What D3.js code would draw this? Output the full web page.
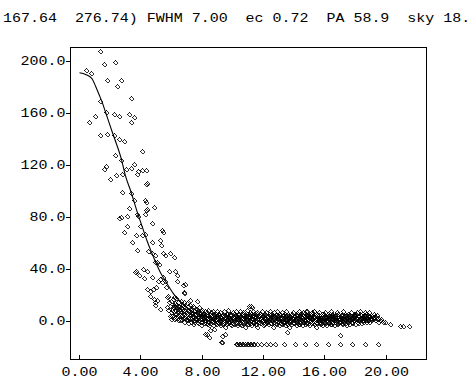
<!DOCTYPE html>
<html><head><meta charset="utf-8">
<script src="https://cdn.jsdelivr.net/npm/d3@7"></script>
<style>html,body{margin:0;padding:0;background:#fff;} svg{display:block;} text{white-space:pre;}</style>
</head><body><svg id="c" width="472" height="391"></svg>
<script>
const titleText = "167.64  276.74) FWHM 7.00  ec 0.72  PA 58.9  sky 18.";
const xTicks = [0, 4, 8, 12, 16, 20];
const xTickLabels = ["0.00", "4.00", "8.00", "12.00", "16.00", "20.00"];
const yTicks = [0, 40, 80, 120, 160, 200];
const yTickLabels = ["0.0", "40.0", "80.0", "120.0", "160.0", "200.0"];

// fitted profile
const fitR = [0, 0.4, 0.8, 1.05, 1.26, 1.5, 1.7, 2.13, 2.31, 2.74, 3.0, 3.33, 3.77, 4.09, 4.4, 4.83, 5.27, 5.59, 6.14, 6.6, 7.0, 7.5, 8.0, 8.5, 9.0];
const fitV = [191.3, 190, 187, 181, 175, 168, 161, 146, 140, 124.6, 112, 100.8, 84.1, 73, 62.3, 49.5, 37.9, 31.5, 21.3, 15, 10.5, 7, 4.5, 3, 2];

// pixel values in the core [radius, value]
const corePoints = [
 [1.37,207.7],[1.59,198.2],[2.31,200],[0.44,193.8],[0.72,191.3],[1.81,185.9],[2.68,185.4],[2.46,181.5],
 [3.39,171.8],[1.31,170],[1.70,161],[2.25,159.8],[2.61,157.9],[3.22,159.8],[3.55,157.2],[3.39,153.8],
 [1.01,157.7],[0.65,153.3],[1.37,143.6],[1.81,144.4],[2.25,143.6],[2.57,140.5],[2.90,138.5],[4.05,130.8],
 [2.31,127.7],[2.74,124.6],[3.55,121.3],[1.70,120],[1.59,117.5],[3.05,117.5],[3.33,117.9],[2.79,113.6],
 [2.35,112.8],[2.02,109.8],[3.83,115.4],[4.09,116.9],[4.31,116.2],[3.77,113.6],[4.35,105.9],[4.38,106.6],
 [2.79,100],[3.39,99],[4.27,93.8],[3.55,93.8],[3.22,87.2],[3.77,82.8],[3.83,81.5],[4.27,82.8],[4.35,85.4],
 [2.68,80.2],[2.57,79.5],[3.11,73.8],[3.98,73.3],[4.35,91.8],[4.40,86.7],[4.83,87.9],[3.13,81.5],
 [4.73,75.6],[2.92,68.7],[5.38,70.5],[5.44,68.7],[3.70,66.2],[4.07,66.9],[4.29,67.5],[5.27,62.8],
 [3.42,61],[4.73,61],[3.75,55.2],[4.50,54.1],[5.31,58.5],[4.73,52.5],[4.94,51.5],[5.48,52.5],[5.59,51.5],
 [5.92,52.5],[6.14,50],[5.05,45.6],[4.94,45.6],[5.16,44.4],[4.14,40.5],[4.40,39.2],[3.64,37.9],[3.67,38.5],
 [3.85,35.4],[4.18,33.6],[4.73,34.6],[5.48,34.6],[5.59,31.5],[5.81,38.7],[6.25,39.2],[6.36,35.4],
 [5.09,31.5],[5.27,32.8],[5.38,30.2],[4.79,25.2],[5.01,26.9],[5.66,26.9],[6.36,31.5],[6.75,27.7],[6.90,29],
 [6.79,21.8],[6.83,22.4],[4.61,20],[4.83,17.5],[4.94,14.8],[5.71,18.7],[5.81,14.8],[6.14,18.7],[7.23,16.2],
 [7.66,15.6],[5.27,9.8],[5.71,11],[6.03,8.5],[4.40,25.2],[4.61,23.8],[5.05,16.5],[4.90,12.5]
];

// sky band [radius, values]
const skyBand = [
 [5.8,[20,9]],[5.9,[12,4]],[6.0,[16,7,2]],[6.1,[11,17,5]],[6.2,[9,14,3]],[6.3,[13,6,18]],[6.4,[8,15,1]],
 [6.5,[12,4,10]],[6.6,[16,7,2]],[6.7,[10,13,5]],[6.8,[6,15,0]],[6.9,[11,3,8]],[7.0,[14,6,1]],[7.1,[9,12,-1]],
 [7.2,[5,13,3]],[7.3,[10,2,7]],[7.4,[12,4,-2]],[7.5,[8,0,11]],[7.6,[6,10,2]],[7.7,[3,9,-1]],[7.8,[7,1,11]],
 [7.9,[4,8,-3]],[8.0,[9,2,5]],[8.1,[6,-1,3]],[8.2,[8,1,4]],[8.3,[2,7,-2]],[8.4,[5,0,9]],[8.5,[3,6,-1]],
 [8.6,[7,1,4]],[8.7,[2,8,-3]],[8.8,[5,0,3]],[8.9,[6,-2,2]],[9.0,[4,8,0]],[9.1,[3,-1,6]],[9.2,[1,7,-3]],
 [9.3,[5,2,-2]],[9.4,[8,0,3]],[9.5,[2,-4,5]],[9.6,[6,1,-1]],[9.7,[4,9,0]],[9.8,[-2,3,6]],[9.9,[1,5,-3]],
 [10.0,[7,2,-1]],[10.1,[3,-2,6]],[10.2,[0,5,8]],[10.3,[4,-3,2]],[10.4,[6,1,-1]],[10.5,[2,8,-2]],[10.6,[5,0,3]],
 [10.7,[-1,4,7]],[10.8,[3,-4,1]],[10.9,[6,2,9]],[11.0,[0,4,-2]],[11.1,[5,1,7]],[11.2,[-3,3,6]],[11.3,[2,8,-1]],
 [11.4,[4,0,6]],[11.5,[1,-2,5]],[11.6,[7,3,-4]],[11.7,[2,5,0]],[11.8,[-1,6,3]],[11.9,[4,1,8]],[12.0,[0,-3,5]],
 [12.1,[6,2,-1]],[12.2,[3,7,0]],[12.3,[-2,4,1]],[12.4,[5,8,2]],[12.5,[1,-1,6]],[12.6,[3,-4,4]],[12.7,[7,0,2]],
 [12.8,[-2,5,1]],[12.9,[4,2,8]],[13.0,[0,6,-3]],[13.1,[3,-1,5]],[13.2,[1,7,-2]],[13.3,[5,2,0]],[13.4,[-3,4,6]],
 [13.5,[2,8,-1]],[13.6,[6,0,3]],[13.7,[1,-4,4]],[13.8,[5,2,-2]],[13.9,[3,7,0]],[14.0,[-1,4,1]],[14.1,[6,2,-3]],
 [14.2,[0,5,3]],[14.3,[4,-2,8]],[14.4,[2,6,-1]],[14.5,[-3,3,1]],[14.6,[5,0,7]],[14.7,[1,4,-2]],[14.8,[3,8,0]],
 [14.9,[-1,2,6]],[15.0,[4,-3,1]],[15.1,[2,5,-1]],[15.2,[6,0,3]],[15.3,[-2,4,8]],[15.4,[1,3,-4]],[15.5,[5,-1,2]],
 [15.6,[0,7,3]],[15.7,[4,-2,1]],[15.8,[2,6,-3]],[15.9,[3,0,5]],[16.0,[-1,4,7]],[16.1,[1,-3,3]],[16.2,[6,2,-1]],
 [16.3,[0,5,3]],[16.4,[4,-2,8]],[16.5,[2,6,-1]],[16.6,[-3,3,1]],[16.7,[5,0,4]],[16.8,[1,7,-2]],[16.9,[3,-1,6]],
 [17.0,[0,4,2]],[17.1,[5,-2,3]],[17.2,[2,8,0]],[17.3,[-1,4,6]],[17.4,[3,1,-3]],[17.5,[6,2,0]],[17.6,[1,5,-2]],
 [17.7,[4,0,7]],[17.8,[-1,3,2]],[17.9,[5,6,1]],[18.0,[2,-2,4]],[18.1,[0,7,3]],[18.2,[4,1,-1]],[18.3,[6,2,8]],
 [18.4,[3,-1,5]],[18.5,[1,4,0]],[18.6,[5,2,7]],[18.7,[3,0,6]],[18.8,[2,5,1]],[18.9,[4,7,0]],[19.0,[3,1,5]],
 [19.1,[4,2]],[19.2,[3,6]],[19.3,[1,4]],[19.4,[2,5]],[19.5,[3,0]],[19.6,[1]],[19.7,[2]],[19.8,[0]]
];

// more sky pixels between the columns above
const skyBand2 = [
 [6.05,[9,4]],[6.15,[13,2]],[6.25,[6,11]],[6.35,[10,3]],[6.45,[5,12]],[6.55,[8,1]],[6.65,[11,4]],[6.75,[3,8]],[6.85,[9,12]],[6.95,[5,2]],
 [7.05,[8,3]],[7.15,[2,7]],[7.25,[9,0]],[7.35,[4,6]],[7.45,[1,8]],[7.55,[5,3]],[7.65,[7,0]],[7.75,[4,1]],[7.85,[6,2]],[7.95,[0,5]],
 [8.05,[3,6]],[8.15,[1,4]],[8.25,[5,-1]],[8.35,[3,6]],[8.45,[2,-3]],[8.55,[4,1]],[8.65,[0,5]],[8.75,[6,3]],[8.85,[1,-1]],[8.95,[3,5]],
 [9.05,[2,6]],[9.15,[4,0]],[9.25,[1,3]],[9.35,[-1,5]],[9.45,[3,1]],[9.55,[4,-2]],[9.65,[2,6]],[9.75,[0,3]],[9.85,[5,2]],[9.95,[3,-1]],
 [10.05,[1,4]],[10.15,[5,2]],[10.25,[-1,3]],[10.35,[2,6]],[10.45,[4,0]],[10.55,[1,-3]],[10.65,[3,6]],[10.75,[0,5]],[10.85,[4,2]],[10.95,[-2,1]],
 [11.05,[3,6]],[11.15,[1,-1]],[11.25,[4,2]],[11.35,[0,5]],[11.45,[3,-2]],[11.55,[2,6]],[11.65,[4,0]],[11.75,[-1,3]],[11.85,[2,5]],[11.95,[1,4]],
 [12.05,[3,-2]],[12.15,[5,1]],[12.25,[0,4]],[12.35,[2,6]],[12.45,[3,-1]],[12.55,[4,1]],[12.65,[0,5]],[12.75,[3,-1]],[12.85,[1,6]],[12.95,[2,4]],
 [13.05,[4,1]],[13.15,[-1,3]],[13.25,[2,5]],[13.35,[0,3]],[13.45,[4,1]],[13.55,[2,-2]],[13.65,[5,3]],[13.75,[1,0]],[13.85,[3,6]],[13.95,[2,-1]],
 [14.05,[4,2]],[14.15,[1,5]],[14.25,[-2,3]],[14.35,[2,0]],[14.45,[4,1]],[14.55,[3,6]],[14.65,[0,2]],[14.75,[5,-1]],[14.85,[2,4]],[14.95,[1,3]],
 [15.05,[3,6]],[15.15,[0,2]],[15.25,[4,-1]],[15.35,[2,5]],[15.45,[3,0]],[15.55,[1,4]],[15.65,[5,2]],[15.75,[-1,3]],[15.85,[4,1]],[15.95,[2,6]],
 [16.05,[3,0]],[16.15,[1,5]],[16.25,[4,2]],[16.35,[-2,3]],[16.45,[2,0]],[16.55,[5,4]],[16.65,[1,2]],[16.75,[3,-1]],[16.85,[4,6]],[16.95,[0,2]],
 [17.05,[3,5]],[17.15,[1,-1]],[17.25,[4,2]],[17.35,[2,6]],[17.45,[0,3]],[17.55,[4,1]],[17.65,[2,5]],[17.75,[3,0]],[17.85,[1,4]],[17.95,[5,2]],
 [18.05,[3,6]],[18.15,[1,4]],[18.25,[4,2]],[18.35,[2,5]],[18.45,[3,1]],[18.55,[5,3]],[18.65,[1,4]],[18.75,[3,2]],[18.85,[5,1]],[18.95,[2,4]]
];

// isolated points away from the band
const outlierPoints = [
 [11.21,12.3],[11.03,12.3],[11.25,11],[14.84,7.9],[15.17,7.2],[15.27,7.9],[14.73,6.4],[17.02,-10],
 [9.3,-10.8],[9.47,-9.5],[9.3,-15.9],[9.22,-15.4],[8.32,-9.5],[8.53,-6.9],[8.21,-9.5],[8.42,-12.1],
 [8.75,-5.6],[13.54,-8.2],[19.95,-0.5],[20.28,-1.8],[20.93,-3.8],[21.08,-3.1],[21.52,-3.8],
 [19.41,2.1],[19.63,0.8],[19.19,3.3]
];

// row of pixels at the low clip value
const floorR = [10.23,10.3,10.42,10.5,10.62,10.7,10.81,10.9,11.01,11.1,11.20,11.3,11.40,11.59,11.86,12.19,12.44,12.77,13.36,14.05,14.73,15.45,16.23,17.02,17.80,18.65,19.50];
const floorValue = -17.2;

const svg = d3.select("#c");
const L = 70.5, R = 426.5, T = 47.5, B = 359.5;
const x = d3.scaleLinear().domain([-9/15.325, (R - 79.5)/15.325]).range([L, R]);
const y = d3.scaleLinear().domain([(321.5 - B)/1.3, (321.5 - T)/1.3]).range([B, T]);

const FONT = "'Liberation Mono', 'DejaVu Sans Mono', monospace";
function label(g, px, py, txt, anchor) {
  g.append("text").attr("transform", `translate(${px},${py}) scale(1.11,1)`)
    .attr("xml:space", "preserve")
    .attr("text-anchor", anchor).attr("font-family", FONT).attr("font-size", 13.5)
    .attr("fill", "#000").text(txt);
}

// title
label(svg, 3, 22, titleText, "start");

// frame
svg.append("rect").attr("x", L).attr("y", T).attr("width", R - L).attr("height", B - T)
  .attr("fill", "none").attr("stroke", "#000").attr("stroke-width", 1).attr("shape-rendering", "crispEdges");

// x ticks (inward) and labels
const gx = svg.append("g");
xTicks.forEach((t, i) => {
  const px = Math.round(x(t) - 0.5) + 0.5;
  gx.append("line").attr("x1", px).attr("x2", px).attr("y1", B).attr("y2", B - 5)
    .attr("stroke", "#000").attr("shape-rendering", "crispEdges");
  label(gx, px, 375.5, xTickLabels[i], "middle");
});
// y ticks and labels
const gy = svg.append("g");
yTicks.forEach((t, i) => {
  const py = Math.round(y(t) - 0.5) + 0.5;
  gy.append("line").attr("x1", L - 5).attr("x2", L).attr("y1", py).attr("y2", py)
    .attr("stroke", "#000").attr("shape-rendering", "crispEdges");
  label(gy, 65.5, py + 3.5, yTickLabels[i], "end");
});

// points
const pts = [];
corePoints.forEach(p => pts.push(p));
skyBand.forEach(([r, vs]) => vs.forEach(v => pts.push([r, v])));
skyBand2.forEach(([r, vs]) => vs.forEach(v => pts.push([r, v])));
outlierPoints.forEach(p => pts.push(p));
floorR.forEach(r => pts.push([r, floorValue]));

const s = 2.2;
svg.append("g").attr("shape-rendering", "crispEdges").selectAll("path").data(pts).join("path")
  .attr("d", d => {
    const cx = Math.round(x(d[0])) + 0.5, cy = Math.round(y(d[1])) + 0.5;
    return `M${cx - s},${cy}L${cx},${cy - s}L${cx + s},${cy}L${cx},${cy + s}Z`;
  })
  .attr("fill", "none").attr("stroke", "#000").attr("stroke-width", 0.8);

// fitted curve
const line = d3.line().x((d, i) => x(fitR[i])).y((d, i) => y(fitV[i])).curve(d3.curveMonotoneX);
svg.append("path").datum(fitV).attr("d", line).attr("fill", "none").attr("stroke", "#000").attr("stroke-width", 1.1);
</script></body></html>
